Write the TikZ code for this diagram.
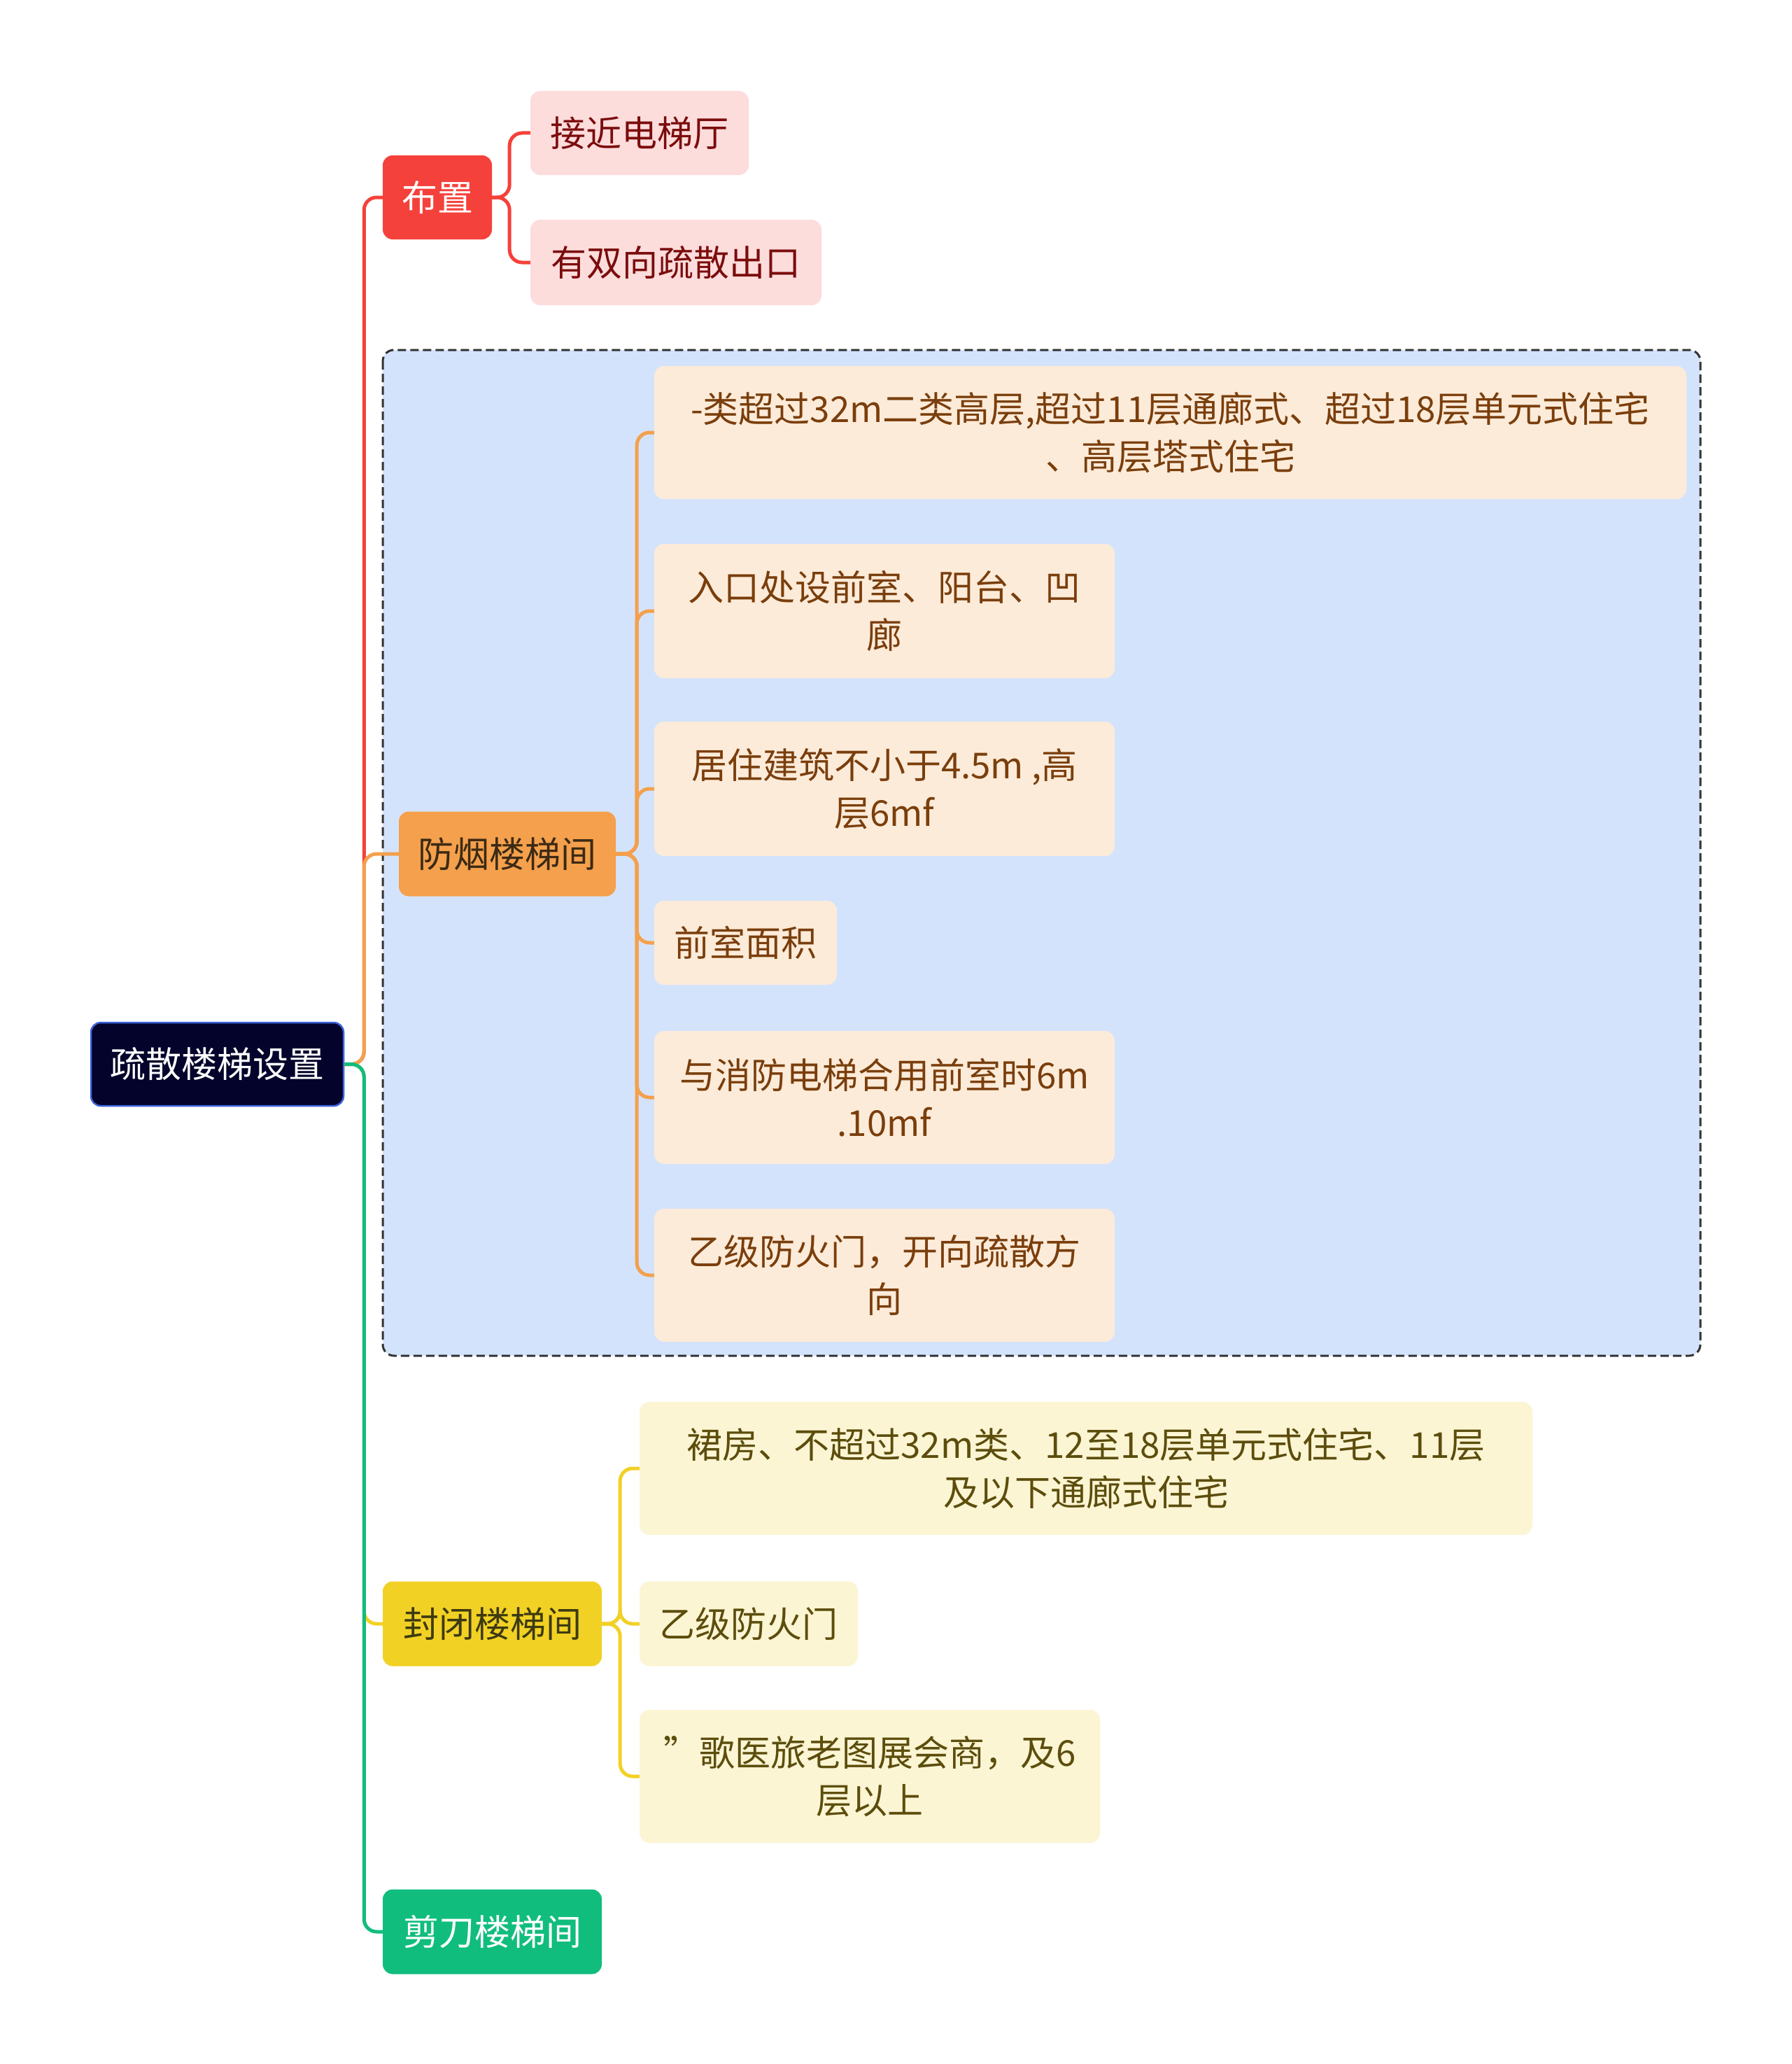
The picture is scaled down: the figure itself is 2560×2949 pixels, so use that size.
\documentclass[tikz,border=0pt]{standalone}
\usepackage{fontspec}
\setmainfont{Noto Sans CJK SC}
\definecolor{rootfill}{HTML}{03032B}
\definecolor{rootdraw}{HTML}{3C63D8}
\definecolor{cred}{HTML}{F5413B}
\definecolor{cpink}{HTML}{FDDCDC}
\definecolor{tred}{HTML}{7B0C0C}
\definecolor{corange}{HTML}{F4A04C}
\definecolor{cpeach}{HTML}{FCEBD9}
\definecolor{tbrown}{HTML}{7A3E0C}
\definecolor{tdark}{HTML}{3B2A14}
\definecolor{cpanel}{HTML}{D4E3FC}
\definecolor{cpaneldraw}{HTML}{333333}
\definecolor{cyellow}{HTML}{F2D125}
\definecolor{ccream}{HTML}{FBF5D4}
\definecolor{tolive}{HTML}{5C4D0C}
\definecolor{tdarky}{HTML}{3D3A10}
\definecolor{cgreen}{HTML}{10BD7D}
\tikzset{
  box/.style={rounded corners=14pt, inner sep=0pt, align=center, anchor=center,
    font=\fontsize{51}{68}\selectfont},
  rootbox/.style={box, fill=rootfill, draw=rootdraw, line width=2.5pt, text=white},
  l1red/.style={box, fill=cred, text=white},
  l1orange/.style={box, fill=corange, text=tdark},
  l1yellow/.style={box, fill=cyellow, text=tdarky},
  l1green/.style={box, fill=cgreen, text=white},
  l2pink/.style={box, fill=cpink, text=tred},
  l2peach/.style={box, fill=cpeach, text=tbrown},
  l2cream/.style={box, fill=ccream, text=tolive},
  conn/.style={line width=5pt, rounded corners=18pt},
}
\begin{document}
\begin{tikzpicture}[x=1pt, y=-1pt]
\useasboundingbox (0,0) rectangle (2560,2949);
\fill[white] (0,0) rectangle (2560,2949);
% panel
\draw[fill=cpanel, draw=cpaneldraw, line width=3pt, rounded corners=16pt, dash pattern=on 12pt off 6pt]
  (547,500) rectangle (2430,1937);

% nodes
\node[rootbox, minimum width=361pt, minimum height=119pt] (root) at (310.5,1520.5) {疏散楼梯设置};

\node[l1red, minimum width=156pt, minimum height=120pt] (bz) at (625,282) {布置};
\node[l2pink, minimum width=312pt, minimum height=120pt] (bz1) at (914,190) {接近电梯厅};
\node[l2pink, minimum width=416pt, minimum height=122pt] (bz2) at (966,375) {有双向疏散出口};

\node[l1orange, minimum width=310pt, minimum height=121pt] (fy) at (725,1220) {防烟楼梯间};
\node[l2peach, minimum width=1475pt, minimum height=190pt] (fy1) at (1672.5,618) {-类超过32m二类高层,超过11层通廊式、超过18层单元式住宅\\、高层塔式住宅};
\node[l2peach, minimum width=658pt, minimum height=192pt] (fy2) at (1264,873) {入口处设前室、阳台、凹\\廊};
\node[l2peach, minimum width=658pt, minimum height=192pt] (fy3) at (1264,1127) {居住建筑不小于4.5m ,高\\层6mf};
\node[l2peach, minimum width=261pt, minimum height=120pt] (fy4) at (1065.5,1347) {前室面积};
\node[l2peach, minimum width=658pt, minimum height=190pt] (fy5) at (1264,1568) {与消防电梯合用前室时6m\\.10mf};
\node[l2peach, minimum width=658pt, minimum height=190pt] (fy6) at (1264,1822) {乙级防火门，开向疏散方\\向};

\node[l1yellow, minimum width=313pt, minimum height=121pt] (fb) at (703.5,2320) {封闭楼梯间};
\node[l2cream, minimum width=1276pt, minimum height=190pt] (fb1) at (1552,2098) {裙房、不超过32m类、12至18层单元式住宅、11层\\及以下通廊式住宅};
\node[l2cream, minimum width=312pt, minimum height=121pt] (fb2) at (1070,2320) {乙级防火门};
\node[l2cream, minimum width=658pt, minimum height=190pt] (fb3) at (1243,2538) {”歌医旅老图展会商，及6\\层以上};

\node[l1green, minimum width=313pt, minimum height=121pt] (jd) at (703.5,2760) {剪刀楼梯间};

% connectors from root
\draw[conn, cred] (root.east) -- ++(28,0) |- (bz.west);
\draw[conn, corange] (root.east) -- ++(28,0) |- (fy.west);
\draw[conn, cyellow] (root.east) -- ++(28,0) |- (fb.west);
\draw[conn, cgreen] (root.east) -- ++(28,0) |- (jd.west);

\draw[conn, cred] (bz.east) -- ++(25,0) |- (bz1.west);
\draw[conn, cred] (bz.east) -- ++(25,0) |- (bz2.west);

\foreach \c in {fy1,fy2,fy3,fy4,fy5,fy6}
  \draw[conn, corange] (fy.east) -- ++(30,0) |- (\c.west);

\foreach \c in {fb1,fb2,fb3}
  \draw[conn, cyellow] (fb.east) -- ++(26,0) |- (\c.west);
\end{tikzpicture}
\end{document}
